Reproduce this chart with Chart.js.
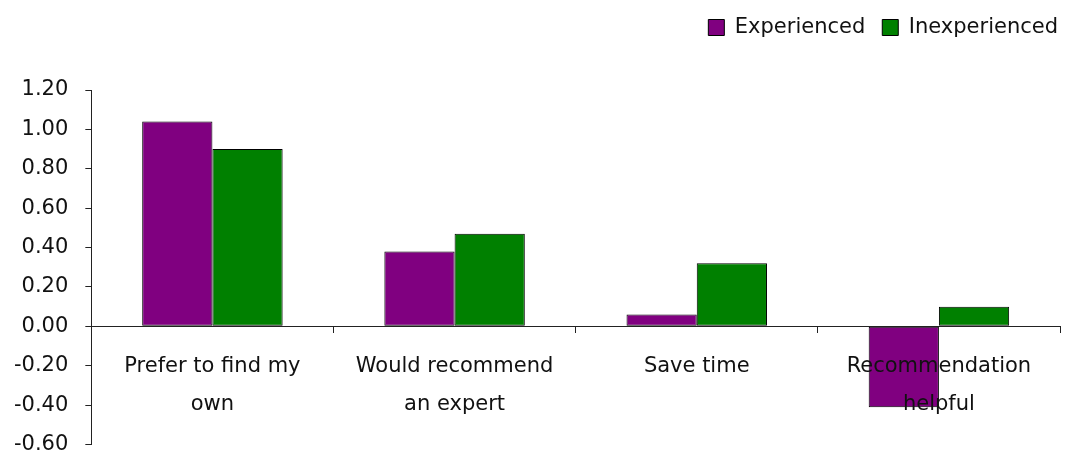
<!DOCTYPE html>
<html>
<head>
<meta charset="utf-8">
<script src="https://cdn.jsdelivr.net/npm/chart.js@4.4.1/dist/chart.umd.min.js"></script>
<style>
  html, body { margin: 0; padding: 0; background: #fff; }
</style>
</head>
<body>
<canvas id="chart" width="1065" height="454"></canvas>
<script>
const categories = [
  ["Prefer to find my", "own"],
  ["Would recommend", "an expert"],
  ["Save time"],
  ["Recommendation", "helpful"]
];
const experienced = [1.04, 0.38, 0.06, -0.41];
const inexperienced = [0.90, 0.47, 0.32, 0.10];
const yMin = -0.6;
const yMax = 1.2;
const yStep = 0.2;

const font = { family: "DejaVu Sans", size: 21 };

// extra room under the legend, and nudge the legend right a bit
const legendGap = {
  id: "legendGap",
  beforeInit(chart) {
    const fit = chart.legend.fit;
    chart.legend.fit = function () {
      fit.bind(chart.legend)();
      this.height += 42;
    };
  },
  afterLayout(chart) {
    const lg = chart.legend;
    lg.left += 15;
    lg.right += 15;
  }
};

const canvas = document.getElementById("chart");

const chart = new Chart(canvas, {
  type: "bar",
  data: {
    labels: categories,
    datasets: [{
      label: "Experienced",
      data: experienced,
      backgroundColor: "#800080",
      borderColor: "#000",
      borderWidth: 1,
      borderSkipped: false
    }, {
      label: "Inexperienced",
      data: inexperienced,
      backgroundColor: "#008000",
      borderColor: "#000",
      borderWidth: 1,
      borderSkipped: false
    }]
  },
  plugins: [legendGap],
  options: {
    responsive: false,
    animation: false,
    layout: { padding: { left: 14, right: 5, top: 0, bottom: 0 } },
    datasets: { bar: { categoryPercentage: 0.58, barPercentage: 1.0 } },
    plugins: {
      tooltip: { enabled: false },
      legend: {
        position: "top",
        align: "end",
        labels: {
          color: "#111",
          font: font,
          boxWidth: 16,
          boxHeight: 16,
          padding: 17
        }
      }
    },
    scales: {
      x: {
        position: { y: 0 },
        grid: { drawOnChartArea: false, drawTicks: true, tickLength: 6, color: "#222", z: 1 },
        border: { color: "#222", width: 1, z: 1 },
        ticks: { color: "#111", font: Object.assign({ lineHeight: 1.8 }, font), padding: 15, maxRotation: 0, z: 1 }
      },
      y: {
        min: yMin,
        max: yMax,
        grid: {
          drawOnChartArea: false,
          drawTicks: true,
          tickLength: 23,
          tickBorderDash: [0, 17, 6, 100],
          color: "#222"
        },
        border: { color: "#222", width: 1 },
        ticks: {
          stepSize: yStep,
          color: "#111",
          font: Object.assign({ lineHeight: 0.9 }, font),
          padding: 0,
          callback: v => v.toFixed(2)
        }
      }
    }
  }
});
</script>
</body>
</html>
